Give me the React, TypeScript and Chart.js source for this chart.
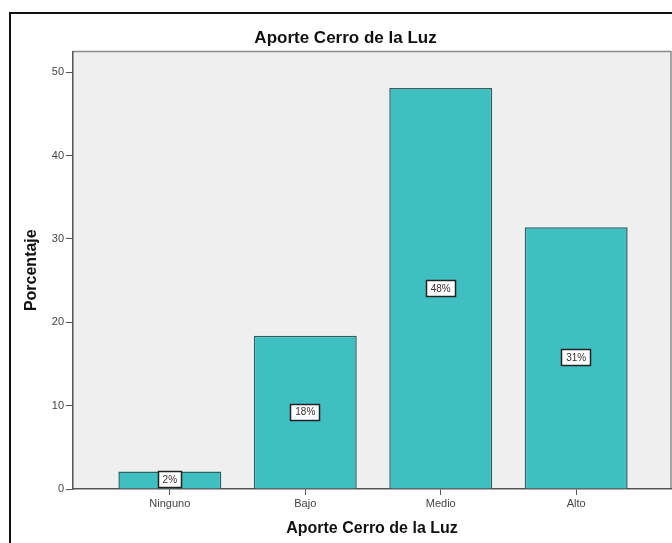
import React, { useEffect, useRef } from 'react';
import { Chart, registerables } from 'chart.js';

Chart.register(...registerables);

const categories = ['Ninguno', 'Bajo', 'Medio', 'Alto'];
const percentages = [2.1, 18.4, 48.1, 31.4];
const pctLabels = ['2%', '18%', '48%', '31%'];
const yTicks = [0, 10, 20, 30, 40, 50];
const yMax = 52.5;
const xMin = -0.715;
const xMax = 3.7;

const FONT = '"Liberation Sans", Arial, sans-serif';

export default function App() {
  const ref = useRef<HTMLCanvasElement>(null);

  useEffect(() => {
    const canvas = ref.current;
    if (!canvas) return;

    const backgroundPlugin = {
      id: 'bgFrame',
      beforeDraw(chart: any) {
        const { ctx, chartArea: a } = chart;
        ctx.save();
        ctx.fillStyle = '#ffffff';
        ctx.fillRect(0, 0, chart.width, chart.height);
        // outer frame
        ctx.strokeStyle = '#111111';
        ctx.lineWidth = 2;
        ctx.beginPath();
        ctx.moveTo(10, chart.height + 2);
        ctx.lineTo(10, 13);
        ctx.lineTo(chart.width + 2, 13);
        ctx.stroke();
        // plot background
        ctx.fillStyle = '#efefef';
        ctx.fillRect(a.left, a.top, a.right - a.left, a.bottom - a.top);
        ctx.strokeStyle = '#8a8a8a';
        ctx.lineWidth = 1.5;
        ctx.beginPath();
        ctx.moveTo(a.left, a.top);
        ctx.lineTo(a.right, a.top);
        ctx.lineTo(a.right, a.bottom);
        ctx.stroke();
        ctx.restore();
      },
    };

    const labelPlugin = {
      id: 'barLabels',
      afterDatasetsDraw(chart: any) {
        const { ctx } = chart;
        const meta = chart.getDatasetMeta(0);
        ctx.save();
        ctx.font = `10px ${FONT}`;
        meta.data.forEach((bar: any, i: number) => {
          const { x, y, base } = bar.getProps(['x', 'y', 'base'], true);
          const cy = (y + base) / 2;
          const text = pctLabels[i];
          const tw = ctx.measureText(text).width;
          const w = Math.round(tw + 10);
          const h = 17;
          const left = Math.round(x - w / 2);
          const top = Math.round(cy - h / 2);
          ctx.fillStyle = '#ffffff';
          ctx.fillRect(left, top, w, h);
          ctx.strokeStyle = '#222222';
          ctx.lineWidth = 1.5;
          ctx.strokeRect(left + 0.5, top + 0.5, w - 1, h - 1);
          ctx.fillStyle = '#3a2f33';
          ctx.textAlign = 'center';
          ctx.textBaseline = 'middle';
          ctx.fillText(text, x, cy + 0.5);
        });
        ctx.restore();
      },
    };

    const chart = new Chart(canvas, {
      type: 'bar',
      data: {
        datasets: [
          {
            label: 'Porcentaje',
            data: percentages.map((v, i) => ({ x: i, y: v })),
            backgroundColor: '#40bfc1',
            borderColor: '#2c6168',
            borderWidth: 1.5,
            categoryPercentage: 0.76,
            barPercentage: 1,
          },
        ],
      },
      options: {
        responsive: false,
        animation: false,
        devicePixelRatio: 1,
        layout: { padding: { left: 20, right: 1, top: 0, bottom: 0 } },
        plugins: {
          legend: { display: false },
          tooltip: { enabled: false },
          title: {
            display: true,
            text: 'Aporte Cerro de la Luz',
            color: '#111111',
            font: { family: FONT, size: 17, weight: 'bold' },
            padding: { top: 28, bottom: 3 },
          },
        },
        scales: {
          x: {
            type: 'linear',
            min: xMin,
            max: xMax,
            offset: false,
            afterBuildTicks: (s: any) => {
              s.ticks = categories.map((_, i) => ({ value: i }));
            },
            afterFit: (s: any) => {
              s.height = 54;
            },
            ticks: {
              callback: (v: any) => categories[v] ?? '',
              font: { family: FONT, size: 11 },
              color: '#444444',
              padding: 2,
              maxRotation: 0,
              autoSkip: false,
            },
            grid: {
              display: true,
              offset: false,
              drawOnChartArea: false,
              drawTicks: true,
              tickLength: 6,
              color: '#555555',
            },
            border: { display: true, color: '#555555', width: 1.5 },
            title: {
              display: true,
              text: 'Aporte Cerro de la Luz',
              color: '#111111',
              font: { family: FONT, size: 16, weight: 'bold' },
              padding: { top: 0, bottom: 5 },
            },
          },
          y: {
            type: 'linear',
            min: 0,
            max: yMax,
            afterBuildTicks: (s: any) => {
              s.ticks = yTicks.map((v) => ({ value: v }));
            },
            afterFit: (s: any) => {
              s.width = 53;
            },
            ticks: {
              font: { family: FONT, size: 11 },
              color: '#444444',
              padding: 2,
            },
            grid: {
              display: true,
              drawOnChartArea: false,
              drawTicks: true,
              tickLength: 7,
              color: '#555555',
            },
            border: { display: true, color: '#555555', width: 1.5 },
            title: {
              display: true,
              text: 'Porcentaje',
              color: '#111111',
              font: { family: FONT, size: 16, weight: 'bold' },
              padding: { top: 2, bottom: 0 },
            },
          },
        },
      },
      plugins: [backgroundPlugin, labelPlugin],
    } as any);

    return () => chart.destroy();
  }, []);

  return (
    <div
      style={{
        position: 'absolute',
        left: 0,
        top: 0,
        width: 672,
        height: 543,
        background: '#ffffff',
        overflow: 'hidden',
      }}
    >
      <canvas
        ref={ref}
        width={672}
        height={543}
        style={{ display: 'block', width: 672, height: 543 }}
      />
    </div>
  );
}
